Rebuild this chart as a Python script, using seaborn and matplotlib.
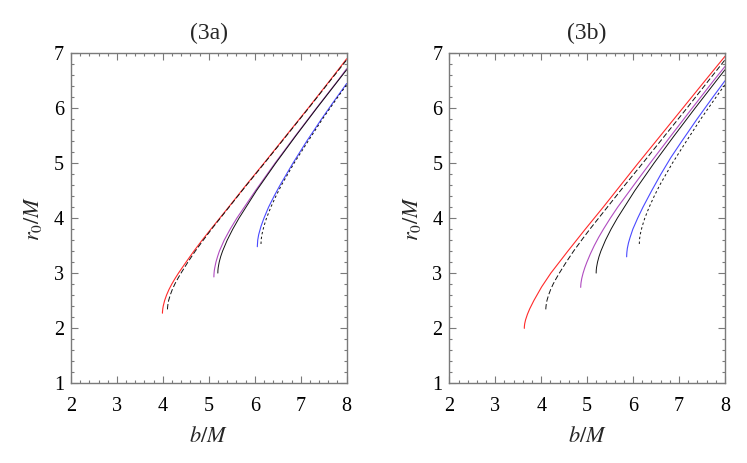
import numpy as np
import pandas as pd
import matplotlib
matplotlib.use("Agg")
import matplotlib.pyplot as plt
from matplotlib.ticker import MultipleLocator
import seaborn as sns

# ---------------- data (r0/M, b/M) ----------------
# shared black reference curves (both panels)
blk_solid_r = [3.0, 3.05, 3.1, 3.2, 3.3, 3.4, 3.6, 3.8, 4.0, 4.5, 5.0, 5.5, 6.0, 6.5, 6.7]
blk_solid_b = [5.196, 5.198, 5.204, 5.226, 5.258, 5.299, 5.40, 5.521, 5.657, 6.037, 6.455, 6.895, 7.348, 7.812, 8.0]

blk_long_r = [2.34, 2.37, 2.42, 2.5, 2.6, 2.7, 2.8, 2.9, 3.0, 3.2, 3.4, 3.6, 3.8, 4.2, 4.6, 5.0, 5.5, 6.0, 6.5, 6.88]
blk_long_b = [4.100, 4.102, 4.108, 4.125, 4.16, 4.205, 4.26, 4.325, 4.395, 4.545, 4.705, 4.88, 5.06,
              5.44, 5.82, 6.21, 6.69, 7.17, 7.64, 8.0]

blk_short_r = [3.53, 3.62, 3.72, 3.85, 4.0, 4.2, 4.4, 4.6, 5.0, 5.4, 5.8, 6.1, 6.43]
blk_short_b = [6.135, 6.141, 6.16, 6.198, 6.255, 6.35, 6.46, 6.58, 6.855, 7.16, 7.47, 7.72, 8.0]

# panel (3a) coloured curves
a_red_r = [2.27, 2.3, 2.35, 2.4, 2.5, 2.6, 2.7, 2.8, 2.9, 3.0, 3.2, 3.4, 3.6, 3.8,
           4.2, 4.6, 5.0, 5.5, 6.0, 6.5, 6.9]
a_red_b = [3.990, 3.992, 3.998, 4.008, 4.038, 4.080, 4.132, 4.194, 4.264, 4.340, 4.505, 4.675,
           4.855, 5.045, 5.43, 5.81, 6.20, 6.68, 7.16, 7.63, 8.0]

a_pur_r = [2.93, 2.96, 3.0, 3.05, 3.1, 3.2, 3.3, 3.4, 3.6, 3.8, 4.0, 4.5, 5.0, 5.5, 6.0, 6.5, 6.72]
a_pur_b = [5.110, 5.111, 5.114, 5.12, 5.13, 5.155, 5.19, 5.23, 5.335, 5.465, 5.61, 6.015,
           6.44, 6.885, 7.34, 7.805, 8.0]

a_blu_r = [3.48, 3.6, 3.7, 3.85, 4.0, 4.2, 4.4, 4.6, 5.0, 5.4, 5.8, 6.1, 6.45]
a_blu_b = [6.055, 6.064, 6.085, 6.135, 6.20, 6.30, 6.42, 6.55, 6.83, 7.13, 7.45, 7.70, 8.0]

# panel (3b) coloured curves
b_red_r = [1.994, 2.03, 2.08, 2.15, 2.25, 2.35, 2.5, 2.75, 3.0, 3.4, 3.8, 4.2, 4.6, 5.0,
           5.5, 6.0, 6.5, 6.945]
b_red_b = [3.632, 3.634, 3.641, 3.66, 3.70, 3.75, 3.84, 4.01, 4.21, 4.58, 4.96, 5.35, 5.73,
           6.11, 6.595, 7.08, 7.565, 8.0]

b_pur_r = [2.74, 2.77, 2.82, 2.9, 3.0, 3.1, 3.2, 3.35, 3.5, 3.65, 3.8, 4.0, 4.2, 4.6, 5.0,
           5.5, 6.0, 6.5, 6.76]
b_pur_b = [4.860, 4.861, 4.866, 4.882, 4.912, 4.95, 4.995, 5.07, 5.155, 5.25, 5.355, 5.505,
           5.665, 6.015, 6.37, 6.825, 7.285, 7.75, 8.0]

b_blu_r = [3.296, 3.33, 3.38, 3.45, 3.55, 3.65, 3.8, 4.0, 4.2, 4.5, 4.8, 5.1, 5.4, 5.8, 6.2, 6.5]
b_blu_b = [5.860, 5.861, 5.865, 5.875, 5.90, 5.935, 5.995, 6.10, 6.215, 6.405, 6.605, 6.82,
           7.06, 7.39, 7.735, 8.0]

titles = ["(3a)", "(3b)"]
x_ticks = [2, 3, 4, 5, 6, 7, 8]
y_ticks = [1, 2, 3, 4, 5, 6, 7]

RED = "#ff2a2a"
PUR = "#b04cc0"
BLU = "#4a4aff"
BLK = "#111111"

sns.set_style("white")
plt.rcParams["font.family"] = ["Liberation Serif", "DejaVu Serif"]
plt.rcParams["mathtext.fontset"] = "stix"

fig = plt.figure(figsize=(7.47, 4.63), dpi=100)
ax_a = fig.add_axes([0.0950, 0.1728, 0.3691, 0.7121])
ax_b = fig.add_axes([0.6015, 0.1728, 0.3690, 0.7121])


def draw(ax, r, b, color, dashes=None, lw=0.8):
    df = pd.DataFrame({"b": b, "r": r})
    sns.lineplot(data=df, x="b", y="r", ax=ax, color=color, linewidth=lw,
                 sort=False, estimator=None, legend=False)
    line = ax.lines[-1]
    if dashes is not None:
        line.set_dashes(dashes)


panels = [
    (ax_a, [(a_red_r, a_red_b, RED), (a_pur_r, a_pur_b, PUR), (a_blu_r, a_blu_b, BLU)]),
    (ax_b, [(b_red_r, b_red_b, RED), (b_pur_r, b_pur_b, PUR), (b_blu_r, b_blu_b, BLU)]),
]

FRAME = "#7a7a7a"
for i, (ax, cols) in enumerate(panels):
    for r, b, c in cols:
        draw(ax, r, b, c)
    draw(ax, blk_solid_r, blk_solid_b, BLK, lw=0.7)
    draw(ax, blk_long_r, blk_long_b, BLK, dashes=(5.5, 2.5), lw=0.7)
    draw(ax, blk_short_r, blk_short_b, BLK, dashes=(2.5, 2.5), lw=0.7)

    ax.set_xlim(2, 8)
    ax.set_ylim(1, 7)
    ax.set_xticks(x_ticks)
    ax.set_yticks(y_ticks)
    ax.xaxis.set_minor_locator(MultipleLocator(0.2))
    ax.yaxis.set_minor_locator(MultipleLocator(0.2))
    ax.tick_params(which="both", direction="in", top=True, right=True,
                   bottom=True, left=True, color=FRAME, width=0.8)
    ax.tick_params(which="major", length=5, labelsize=14.5, labelcolor="black")
    ax.tick_params(which="minor", length=2.5)
    ax.tick_params(axis="x", which="major", pad=10)
    ax.tick_params(axis="y", which="major", pad=5)
    for s in ax.spines.values():
        s.set_color(FRAME)
        s.set_linewidth(1.0)
        s.set_visible(True)
    ax.set_xlabel(r"$b/M$", fontsize=16, labelpad=8)
    ax.set_ylabel(r"$r_0/M$", fontsize=16, labelpad=7)
    ax.set_title(titles[i], fontsize=17, pad=10)
    ax.grid(False)

fig.savefig("out.png", dpi=100)
